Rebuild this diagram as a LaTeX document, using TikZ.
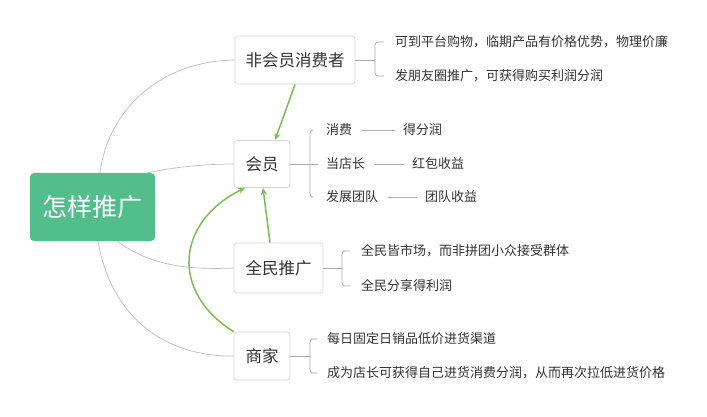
\documentclass[tikz,border=0pt]{standalone}
\usepackage{fontspec}
\usetikzlibrary{arrows.meta}
\setmainfont{Noto Sans CJK SC}
\definecolor{rootgreen}{HTML}{52BE8C}
\definecolor{arrowgreen}{HTML}{7CBF4E}
\definecolor{txt}{HTML}{333333}
\definecolor{conn}{HTML}{BDBDBD}
\definecolor{boxline}{HTML}{D6D6D6}
\begin{document}
\begin{tikzpicture}[x=1pt,y=-1pt,
  rootbox/.style={fill=rootgreen,draw=none,rounded corners=4pt,text=white,
    font=\fontsize{25}{27}\selectfont,minimum width=125pt,minimum height=68pt,inner sep=0pt},
  topicbox/.style={draw=boxline,line width=0.8pt,fill=white,rounded corners=3pt,text=txt,
    font=\fontsize{16.5}{18}\selectfont,minimum height=48pt,inner sep=0pt},
  leaf/.style={anchor=west,inner sep=0pt,text=txt,font=\fontsize{13}{15}\selectfont},
  conn/.style={draw=conn,line width=0.7pt},
  branch/.style={draw=conn!90!black,line width=0.7pt},
  garrow/.style={draw=arrowgreen,line width=1.5pt,-{Stealth[length=7pt,width=6pt]}}
]
\useasboundingbox (0,0) rectangle (707,417);
\fill[white] (0,0) rectangle (707,417);

% nodes
\node[rootbox] (root) at (92.5,207) {怎样推广};
\node[topicbox,minimum width=120pt] (fei) at (295,60) {非会员消费者};
\node[topicbox,minimum width=56pt,minimum height=47pt] (hui) at (262,164) {会员};
\node[topicbox,minimum width=89pt,minimum height=50pt] (quan) at (278.5,268) {全民推广};
\node[topicbox,minimum width=56pt] (shang) at (262,356) {商家};

% root connectors
\draw[conn] ([xshift=7.5pt]root.north) .. controls (108,110) and (160,61) .. (fei.west);
\draw[conn] ([xshift=55pt]root.north) .. controls (180,166) and (210,164) .. (hui.west);
\draw[conn] ([xshift=25pt]root.south) .. controls (150,266) and (190,270) .. (quan.west);
\draw[conn] ([xshift=5.5pt]root.south) .. controls (112,322) and (170,357) .. (shang.west);

% leaves of 非会员消费者
\node[leaf] (f1) at (395,42) {可到平台购物，临期产品有价格优势，物理价廉};
\node[leaf] (f2) at (395,76) {发朋友圈推广，可获得购买利润分润};
\draw[branch] (fei.east) -- (375,60);
\draw[branch,rounded corners=3pt] ([xshift=-11pt]f1.west) -- (375,42) -- (375,76) -- ([xshift=-11pt]f2.west);

% leaves of 会员
\node[leaf] (h1) at (326,130) {消费};
\node[leaf] (h2) at (326,164) {当店长};
\node[leaf] (h3) at (326,197) {发展团队};
\node[leaf] (h1b) at (403,130) {得分润};
\node[leaf] (h2b) at (412,164) {红包收益};
\node[leaf] (h3b) at (425,197) {团队收益};
\draw[branch] (hui.east) -- ([xshift=-8pt]h2.west);
\draw[branch,rounded corners=3pt] ([xshift=-13pt]h1.west) -- (310,130) -- (310,197) -- ([xshift=-13pt]h3.west);
\draw[branch] ([xshift=10pt]h1.east) -- ([xshift=-8pt]h1b.west);
\draw[branch] ([xshift=10pt]h2.east) -- ([xshift=-8pt]h2b.west);
\draw[branch] ([xshift=10pt]h3.east) -- ([xshift=-8pt]h3b.west);

% leaves of 全民推广
\node[leaf] (q1) at (361,251) {全民皆市场，而非拼团小众接受群体};
\node[leaf] (q2) at (361,286) {全民分享得利润};
\draw[branch] (quan.east) -- (342,268);
\draw[branch,rounded corners=3pt] ([xshift=-11pt]q1.west) -- (342,251) -- (342,286) -- ([xshift=-11pt]q2.west);

% leaves of 商家
\node[leaf] (s1) at (327,339) {每日固定日销品低价进货渠道};
\node[leaf] (s2) at (327,373) {成为店长可获得自己进货消费分润，从而再次拉低进货价格};
\draw[branch] (shang.east) -- (310,356);
\draw[branch,rounded corners=3pt] ([xshift=-10pt]s1.west) -- (310,339) -- (310,373) -- ([xshift=-10pt]s2.west);

% green arrows
\draw[garrow] ([xshift=0pt]fei.south) -- ([xshift=13pt]hui.north);
\draw[garrow] ([xshift=-8.5pt]quan.north) -- ([xshift=1pt]hui.south);
\draw[garrow] (shang.north west) .. controls (170,292) and (176,222) .. ([xshift=-17pt]hui.south);
\end{tikzpicture}
\end{document}
